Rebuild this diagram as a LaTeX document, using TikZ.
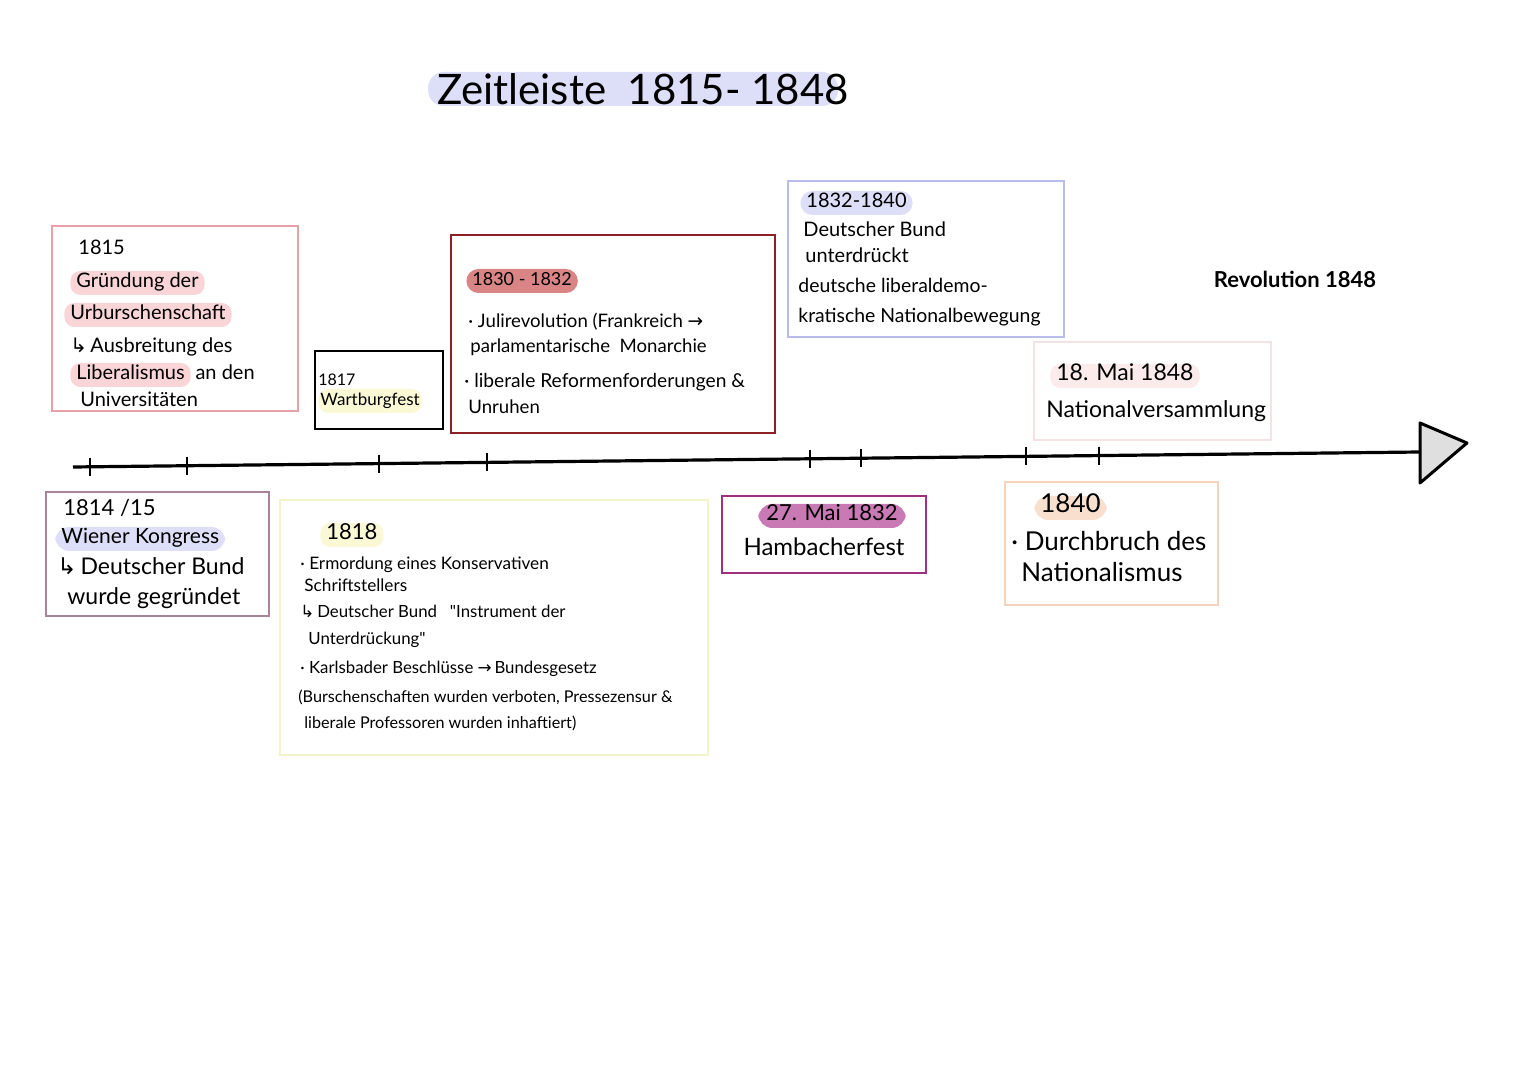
\documentclass[tikz,border=0pt]{standalone}
\usepackage{fontspec}
\setmainfont{Lato}
\newfontfamily\symfont{DejaVu Sans}
\newfontfamily\latoplain{Lato}
\usetikzlibrary{fit,calc}
\definecolor{pinkB}{HTML}{E8A0A8}
\definecolor{pinkH}{HTML}{F9D5D8}
\definecolor{redB}{HTML}{8E1F24}
\definecolor{redH}{HTML}{D98585}
\definecolor{lavB}{HTML}{B8BDEB}
\definecolor{lavH}{HTML}{DCDFF7}
\definecolor{mauveB}{HTML}{A7849A}
\definecolor{yelB}{HTML}{F5F3CC}
\definecolor{yelH}{HTML}{FAF8D5}
\definecolor{magB}{HTML}{A3307E}
\definecolor{magH}{HTML}{C97AB5}
\definecolor{peachB}{HTML}{F5D3BC}
\definecolor{peachH}{HTML}{F9DFCD}
\definecolor{lpinkB}{HTML}{F5E3E3}
\definecolor{lpinkH}{HTML}{FBEBEB}
\newcommand{\hookar}{{\symfont ↳}}
\newcommand{\rar}{{\symfont →}}
\newcommand{\dq}{{\latoplain"}}
\begin{document}
\begin{tikzpicture}[x=0.5pt,y=-0.5pt,
  frame/.style={draw, line width=1pt, inner sep=0pt},
  fs/.style={font=\fontsize{#1pt}{#1pt}\selectfont},
  txt/.style={anchor=west, inner sep=0pt, text height=0.7em, text depth=0.2em, yshift=-1.5pt},
  hl/.style={txt, fill=#1, rounded corners=5pt, inner xsep=3pt, inner ysep=1.5pt},
  tick/.style={line width=0.9pt}]
\useasboundingbox (0,0) rectangle (1528,1080);
\fill[white] (0,0) rectangle (1528,1080);

% title
\node[fit={(428,72) (838,106)}, inner sep=0pt, fill=lavH, rounded corners=8pt] (titlehl) {};
\node[inner sep=0pt, fs=21] (title) at (643,89) {Zeitleiste\ \ 1815- 1848};

% timeline
\coordinate (ts) at (73,467);
\coordinate (te) at (1420,452);
\draw[line width=1.6pt] (ts) -- (te);
\foreach \t in {0.0126,0.0846,0.2272,0.3073,0.5471,0.585,0.7075,0.7617}
  \draw[tick] ($(ts)!\t!(te)$) ++(0,-9) -- ++(0,18);
\draw[fill=gray!25, line width=1.5pt, line join=round] (te) ++(0,-29) -- (1467,443) -- (1420,483) -- cycle;

% 1815
\node[frame, draw=pinkB, fit={(52,226) (298,411)}] (f1815) {};
\node[txt, fs=10] (a1) at (78,247) {1815};
\node[hl=pinkH, fs=10] (a2) at (70,280) {Gründung der};
\node[hl=pinkH, fs=10] (a3) at (64,312) {Urburschenschaft};
\node[txt, fs=10] (a4) at (70,345) {\hookar\,Ausbreitung des};
\node[hl=pinkH, fs=10] (a5) at (70,372) {Liberalismus};
\node[txt, fs=10, yshift=1.5pt] (a5b) at ([xshift=2pt]a5.east) {an den};
\node[txt, fs=10] (a6) at (80,399) {Universitäten};

% 1817
\node[frame, draw=black, fit={(315,351) (443,429)}] (f1817) {};
\node[txt, fs=8] (b1) at (318,378) {1817};
\node[hl=yelH, fs=8.5, inner xsep=1pt] (b2) at (318,398) {Wartburgfest};

% 1830-1832
\node[frame, draw=redB, fit={(451,235) (775,433)}] (f1830) {};
\node[hl=redH, fs=9, rounded corners=6pt] (c1) at (466,278) {1830 - 1832};
\node[txt, fs=9.3] (c2) at (468,320) {· Julirevolution (Frankreich \rar};
\node[txt, fs=9.3] (c3) at (470,345) {parlamentarische\ \ Monarchie};
\node[txt, fs=9.6] (c4) at (464,380) {· liberale Reformenforderungen \&};
\node[txt, fs=9.3] (c5) at (468,406) {Unruhen};

% 1832-1840
\node[frame, draw=lavB, fit={(788,181) (1064,337)}] (f1832) {};
\node[hl=lavH, fs=10, rounded corners=6pt] (d1) at (800,200) {1832-1840};
\node[txt, fs=10] (d2) at (803,229) {Deutscher Bund};
\node[txt, fs=10] (d3) at (805,255) {unterdrückt};
\node[txt, fs=9.7] (d4) at (798,285) {deutsche liberaldemo-};
\node[txt, fs=9.7] (d5) at (798,315) {kratische Nationalbewegung};

% Revolution
\node[inner sep=0pt, font=\bfseries\fontsize{11pt}{11pt}\selectfont] (rev) at (1295,279) {Revolution 1848};

% 18. Mai 1848
\node[frame, draw=lpinkB, fit={(1034,342) (1271,440)}] (f1848) {};
\node[hl=lpinkH, fs=11.5] (e1) at (1050,373) {18. Mai 1848};
\node[txt, fs=11.5] (e2) at (1046,410) {Nationalversammlung};

% 1814/15
\node[frame, draw=mauveB, fit={(46,492) (269,616)}] (f1814) {};
\node[txt, fs=11] (g1) at (63,508) {1814 /15};
\node[hl=lavH, fs=10.5, rounded corners=7pt] (g2) at (55,536) {Wiener Kongress};
\node[txt, fs=11.5] (g3) at (57,567) {\hookar\,Deutscher Bund};
\node[txt, fs=11.5] (g4) at (67,597) {wurde\ gegründet};

% 1818
\node[frame, draw=yelB, fit={(280,500) (708,755)}] (f1818) {};
\node[hl=yelH, fs=11] (h1) at (320,532) {1818};
\node[txt, fs=8.6] (h2) at (300,562) {· Ermordung eines Konservativen};
\node[txt, fs=8.6] (h3) at (304,584) {Schriftstellers};
\node[txt, fs=8.4] (h4) at (300,610) {\hookar\,Deutscher Bund\ \ \ \dq Instrument der};
\node[txt, fs=8.4] (h5) at (308,637) {Unterdrückung\dq};
\node[txt, fs=8.4] (h6) at (300,666) {· Karlsbader\ Beschlüsse \rar\,Bundesgesetz};
\node[txt, fs=8.1] (h7) at (298,695) {(Burschenschaften\ wurden verboten, Pressezensur \&};
\node[txt, fs=8.1] (h8) at (304,721) {liberale\ Professoren\ wurden inhaftiert)};

% 27. Mai 1832
\node[frame, draw=magB, fit={(722,496) (926,573)}] (fhamb) {};
\node[txt, anchor=center, fill=magH, rounded corners=7pt, inner xsep=4pt, inner ysep=1.5pt, fs=11] (k1) at (832,513) {27. Mai 1832};
\node[txt, anchor=center, fs=12] (k2) at (824,548) {Hambacherfest};

% 1840
\node[frame, draw=peachB, fit={(1005,482) (1218,605)}] (f1840) {};
\node[hl=peachH, fs=13, rounded corners=7pt] (m1) at (1034,505) {1840};
\node[txt, fs=13] (m2) at (1011,543) {· Durchbruch des};
\node[txt, fs=13] (m3) at (1021,574) {Nationalismus};
\end{tikzpicture}
\end{document}
